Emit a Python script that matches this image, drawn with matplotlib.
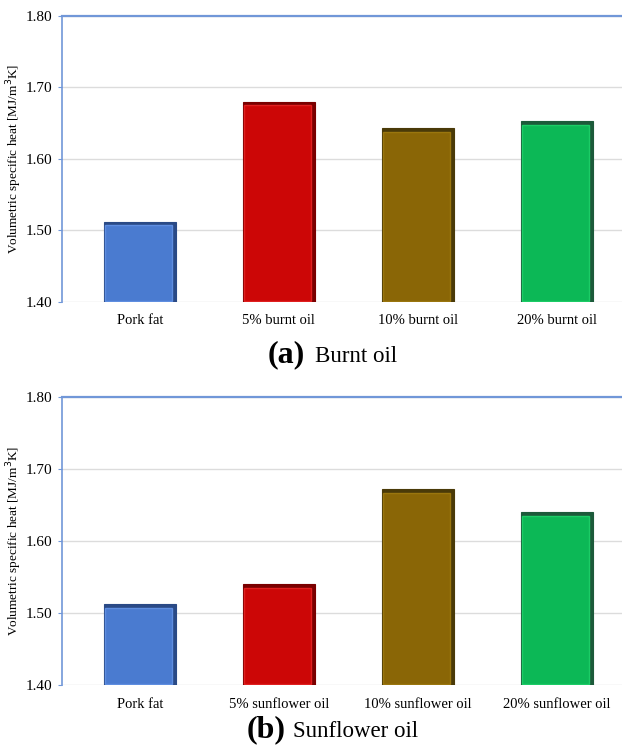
import matplotlib.pyplot as plt
import numpy as np

plt.rcParams['font.family'] = ['Liberation Serif', 'DejaVu Serif']

labels_a = ['Pork fat', '5% burnt oil', '10% burnt oil', '20% burnt oil']
values_a = [1.512, 1.680, 1.643, 1.653]
labels_b = ['Pork fat', '5% sunflower oil', '10% sunflower oil', '20% sunflower oil']
values_b = [1.512, 1.540, 1.672, 1.640]
yticks = [1.40, 1.50, 1.60, 1.70, 1.80]

colors = ['#4a7bd0', '#cc0606', '#8a6606', '#0cb856']
edges = ['#2a4a86', '#7a0000', '#4a3a08', '#1c5a3a']
lights = ['#5f8ee0', '#e02020', '#9a760e', '#1ccc66']
blue = '#7197d8'


def panel(ax, labels, values):
    x = np.arange(len(labels))
    base = 1.40
    h = np.array(values) - base
    ax.bar(x, h, bottom=base, width=0.52, color=edges, edgecolor=edges, linewidth=0.8, zorder=3)
    ax.bar(x - 0.01, h - 0.006, bottom=base + 0.001, width=0.48, color=colors, edgecolor=lights,
           linewidth=1.0, zorder=4)
    ax.set_xlim(-0.56, 3.47)
    ax.set_ylim(1.40, 1.80)
    ax.set_yticks(yticks)
    ax.set_yticklabels(['%.2f' % v for v in yticks], fontsize=11)
    ax.set_xticks(x)
    ax.set_xticklabels(labels, fontsize=10.5)
    ax.tick_params(axis='x', length=0, pad=9)
    ax.tick_params(axis='y', length=3, color=blue, pad=4)
    ax.grid(axis='y', color='#dcdcdc', linewidth=1.0, zorder=0)
    ax.axhline(1.80, color=blue, linewidth=1.6, zorder=5, clip_on=False)
    for s in ['right', 'bottom', 'top']:
        ax.spines[s].set_visible(False)
    ax.spines['left'].set_color(blue)
    ax.spines['left'].set_linewidth(1.2)
    ax.set_ylabel('Volumetric specific heat [MJ/m$^3$K]', fontsize=9.5, labelpad=1)


fig = plt.figure(figsize=(6.22, 7.48), dpi=100)
ax1 = fig.add_axes([0.0997, 0.5963, 0.9003, 0.3823])
ax2 = fig.add_axes([0.0997, 0.0842, 0.9003, 0.3851])
panel(ax1, labels_a, values_a)
panel(ax2, labels_b, values_b)

# captions: bold letter larger than the text
fig.text(268 / 622, 1 - 362 / 748, '(a)', fontsize=23, fontweight='bold', ha='left', va='baseline')
fig.text(315 / 622, 1 - 362 / 748, 'Burnt oil', fontsize=16.5, ha='left', va='baseline')
fig.text(247 / 622, 1 - 737 / 748, '(b)', fontsize=23, fontweight='bold', ha='left', va='baseline')
fig.text(293 / 622, 1 - 737 / 748, 'Sunflower oil', fontsize=16.5, ha='left', va='baseline')

fig.savefig('out.png', dpi=100)
